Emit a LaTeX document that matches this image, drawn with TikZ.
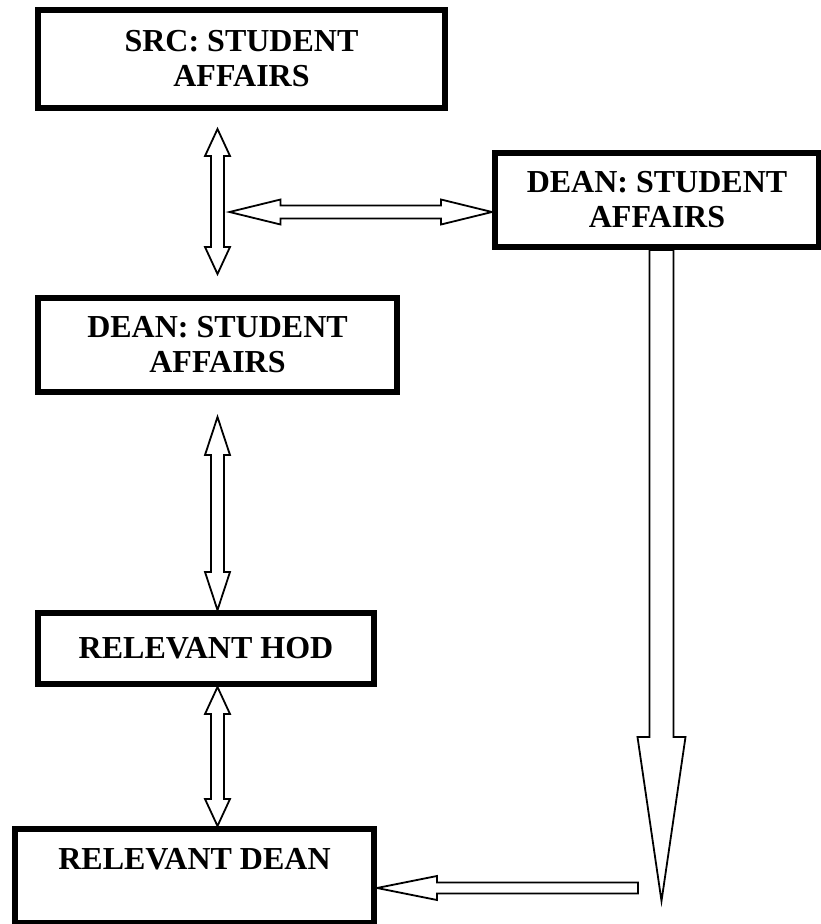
\documentclass[tikz,border=0pt]{standalone}
\usepackage{fontspec}
\setmainfont{Liberation Serif}
\usepackage{tikz}
\usetikzlibrary{positioning,calc}
\tikzset{
    officebox/.style={draw, line width=6pt, align=center, inner sep=0pt, font=\bfseries\fontsize{32}{35}\selectfont},
    hollow/.style={draw, line width=1.8pt, fill=white}
}
% block arrow with two heads: tip, tip, shaft half width, head half width, head length
\newcommand{\dblblock}[5]{%
  \draw[hollow] (#1) -- ($(#1)!#5!(#2)!#4!90:(#2)$) -- ($(#1)!#5!(#2)!#3!90:(#2)$)
    -- ($(#2)!#5!(#1)!#3!-90:(#1)$) -- ($(#2)!#5!(#1)!#4!-90:(#1)$) -- (#2)
    -- ($(#2)!#5!(#1)!#4!90:(#1)$) -- ($(#2)!#5!(#1)!#3!90:(#1)$)
    -- ($(#1)!#5!(#2)!#3!-90:(#2)$) -- ($(#1)!#5!(#2)!#4!-90:(#2)$) -- cycle;}
% block arrow with one head: tail, tip, shaft half width, head half width, head length
\newcommand{\oneblock}[5]{%
  \draw[hollow] ($(#1)!#3!90:(#2)$) -- ($(#2)!#5!(#1)!#3!-90:(#1)$)
    -- ($(#2)!#5!(#1)!#4!-90:(#1)$) -- (#2) -- ($(#2)!#5!(#1)!#4!90:(#1)$)
    -- ($(#2)!#5!(#1)!#3!90:(#1)$) -- ($(#1)!#3!-90:(#2)$) -- cycle;}

\begin{document}
\begin{tikzpicture}[x=1pt, y=-1pt]
    \useasboundingbox (0,0) rectangle (820,924);

    % Offices
    \node[officebox, minimum width=407pt, minimum height=98pt] (src) at (241.5,59) {SRC: STUDENT\\AFFAIRS};
    \node[officebox, minimum width=324pt, minimum height=94pt] (deanr) at (657,200) {DEAN: STUDENT\\AFFAIRS};
    \node[officebox, minimum width=359pt, minimum height=94pt] (deanl) at (217.5,345) {DEAN: STUDENT\\AFFAIRS};
    \node[officebox, minimum width=336pt, minimum height=71pt] (hod) at (206,648.5) {RELEVANT HOD};
    \node[officebox, minimum width=359pt, minimum height=94pt] (rdean) at (194.5,876) {RELEVANT DEAN\\\mbox{}};

    % Arrow ends
    \coordinate (a1top) at ($(deanl.north |- src.south)+(0,18)$);
    \coordinate (a1bot) at ($(deanl.north)+(0,-21)$);
    \coordinate (hright) at ($(deanr.west)+(0,12)$);
    \coordinate (hleft) at ($(deanl.north |- hright)+(12,0)$);
    \coordinate (a2top) at ($(deanl.south)+(0,22)$);
    \coordinate (a2bot) at (deanl.south |- hod.north);
    \coordinate (a3top) at (deanl.south |- hod.south);
    \coordinate (a3bot) at (deanl.south |- rdean.north);
    \coordinate (bigtail) at ($(deanr.south)+(4.5,0)$);
    \coordinate (bigtip) at ($(bigtail)+(0,651)$);
    \coordinate (lowtip) at ($(rdean.east)+(0,12)$);
    \coordinate (lowtail) at ($(bigtail |- lowtip)+(-23.5,0)$);

    % Block arrows
    \dblblock{a1top}{a1bot}{6.5pt}{12.5pt}{27pt}
    \dblblock{hleft}{hright}{6.5pt}{12.5pt}{51pt}
    \dblblock{a2top}{a2bot}{6.5pt}{12.5pt}{38pt}
    \dblblock{a3top}{a3bot}{6.5pt}{12.5pt}{27pt}
    \oneblock{bigtail}{bigtip}{12pt}{24pt}{164pt}
    \oneblock{lowtail}{lowtip}{5.5pt}{12pt}{60pt}
\end{tikzpicture}
\end{document}
